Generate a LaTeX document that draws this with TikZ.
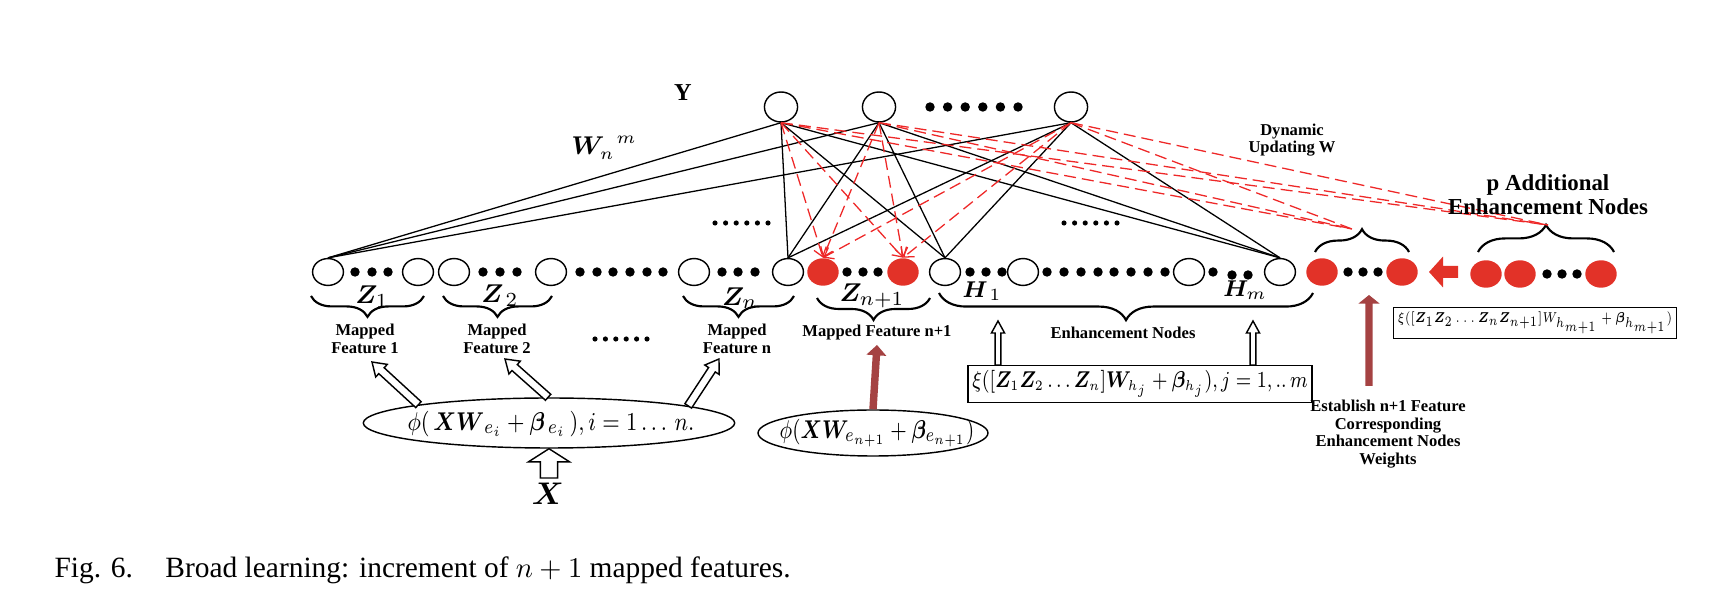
\documentclass[tikz,border=0pt]{standalone}
\usepackage{amsmath,bm,graphicx}
\usepackage{fontspec}
\setmainfont{Liberation Serif}
\usetikzlibrary{calc,shapes.geometric,decorations.pathreplacing,arrows.meta}
\definecolor{nodered}{RGB}{226,50,40}
\definecolor{dashred}{RGB}{238,40,40}
\definecolor{arrowred}{RGB}{165,66,66}
% block arrow: [style]{shaft half width}{head half width}{head length}{from}{to}
\newcommand{\fatarrow}[6][]{%
  \path[#1] let \p1=(#5), \p2=(#6), \n1={atan2(\y2-\y1,\x2-\x1)}, \n2={veclen(\x2-\x1,\y2-\y1)} in
    {[shift={(\p1)},rotate=\n1] (0pt,-#2) -- ({\n2*1pt-#4},-#2) -- ({\n2*1pt-#4},-#3) -- ({\n2*1pt},0pt)
    -- ({\n2*1pt-#4},#3) -- ({\n2*1pt-#4},#2) -- (0pt,#2) -- cycle};}
\newcommand{\narrow}[2]{\scalebox{#1}[1]{#2}}% squeeze a formula sideways

\begin{document}
\begin{tikzpicture}[x=0.35pt,y=-0.35pt,
    ynode/.style={draw,ellipse,inner sep=0pt,minimum width=11.6pt,minimum height=10.5pt,line width=0.5pt},
    wnode/.style={draw,ellipse,inner sep=0pt,minimum width=10.8pt,minimum height=9.4pt,line width=0.5pt},
    rnode/.style={ellipse,fill=nodered,inner sep=0pt,minimum width=11pt,minimum height=9.6pt},
    bdot/.style={circle,fill,inner sep=0pt,minimum size=3.3pt},
    sdot/.style={circle,fill,inner sep=0pt,minimum size=1.8pt},
    wline/.style={line width=0.45pt},
    rdash/.style={draw=dashred,line width=0.45pt,dash pattern=on 4.2pt off 2.1pt},
    brc/.style={decorate,decoration={brace,amplitude=#1},line width=0.75pt},
    brc/.default=7.3pt,
    lbl/.style={font=\fontsize{5.8}{6.1}\selectfont\bfseries,align=center,inner sep=0pt},
    mlbl/.style={font=\fontsize{9.5}{10}\selectfont,inner sep=0pt},
    hollow/.style={draw,fill=white,line width=0.5pt},
  ]
\useasboundingbox (0,0) rectangle (1720,596);

% output layer Y
\node[font=\fontsize{8.5}{9}\selectfont\bfseries,inner sep=0pt] (ylab) at (683,93) {Y};
\node[ynode] (y1) at (781,107) {};
\node[ynode] (y2) at (879,107) {};
\node[ynode] (y3) at (1071,107) {};
\foreach \x [count=\i] in {930,947.6,...,1019}
  \node[bdot] (yd\i) at (\x,107) {};
\node[mlbl,font=\fontsize{9}{10}\selectfont] (wlab) at (604,148) {$\bm{W}_{n}^{\;\;m}$};

% mapped features and enhancement nodes
\foreach \n/\x in {z1a/328,z1b/418,z2a/454,z2b/551,zna/694,znb/788,h1/945,h2/1023,h3/1189,hm/1280}
  \node[wnode] (\n) at (\x,272) {};
\foreach \n/\x in {r1/823,r2/903,e1/1322,e2/1402}
  \node[rnode] (\n) at (\x,272) {};
\foreach \n/\x in {p1/1486,p2/1520,p3/1601}
  \node[rnode] (\n) at (\x,274) {};
\foreach \x [count=\i] in {355,372,388, 483,500,517, 580,597,613,630,647,663, 722,738,755,
    847,863,878, 970,986,1002, 1047,1064,1081,1098,1114,1131,1148,1165, 1213, 1348,1363,1378}
  \node[bdot] (bd\i) at (\x,272) {};
\foreach \x [count=\i] in {1232,1248} \node[bdot] (hd\i) at (\x,275) {};
\foreach \x [count=\i] in {1547,1562,1577} \node[bdot] (pd\i) at (\x,274) {};
\foreach \x [count=\i] in {0,...,5}{% the small dot rows
  \node[sdot] (sa\i) at (715+10.6*\x,223) {};
  \node[sdot] (sb\i) at (1064+10.6*\x,223) {};
  \node[sdot] (sc\i) at (595+10.4*\x,339) {};
}

% braces
\draw[brc] (424,296) -- (311,296);
\draw[brc] (552,296) -- (443,296);
\draw[brc] (794,296) -- (683,296);
\draw[brc=7.7pt] (930,298) -- (817,298);
\draw[brc=9.5pt] (1313,293) -- (939,293);
\draw[brc=8pt] (1315,252) -- (1409,252);
\draw[brc=9.5pt] (1478,252) -- (1614,252);
\coordinate (tipa) at (1352,229);
\coordinate (tipb) at (1548,225);

\node[mlbl] (zl1) at (372,297) {$\bm{Z}_{1}$};
\node[mlbl] (zl2) at (500,296) {$\bm{Z}_{\,2}$};
\node[mlbl] (zln) at (740,298) {$\bm{Z}_{n}$};
\node[mlbl] (zln1) at (872,296) {$\bm{Z}_{n+1}$};
\node[mlbl,font=\fontsize{8.5}{9}\selectfont] (hl1) at (982,291) {$\bm{H}_{\,1}$};
\node[mlbl,font=\fontsize{8.5}{9}\selectfont] (hlm) at (1245,290) {$\bm{H}_{m}$};

% weights
\foreach \b in {z1a,znb,h1,hm}{
  \foreach \t in {y1,y2,y3}
    \draw[wline] (\b.north) -- (\t.south);
}
\foreach \t in {y1,y2,y3}{
  \foreach \r in {r1,r2}
    \draw[rdash,-{Straight Barb[length=3pt,width=4.5pt]}] (\t.south) -- (\r.north);
  \draw[rdash] (\t.south) -- (tipa);
  \draw[rdash] (\t.south) -- (tipb);
}

% texts
\node[lbl] (mf1) at (365,339) {Mapped\\Feature 1};
\node[lbl] (mf2) at (497,339) {Mapped\\Feature 2};
\node[lbl] (mfn) at (737,339) {Mapped\\Feature n};
\node[lbl] (mfn1) at (877,333) {Mapped Feature n+1};
\node[lbl] (enh) at (1123,333) {Enhancement Nodes};
\node[lbl] (dyn) at (1292,140) {Dynamic\\Updating W};
\node[lbl,font=\fontsize{8}{8.4}\selectfont\bfseries] (padd) at (1548,195) {p Additional\\Enhancement Nodes};
\node[lbl] (est) at (1388,434) {Establish n+1 Feature\\Corresponding\\Enhancement Nodes\\Weights};

% mapping functions
\node[draw,ellipse,inner sep=0pt,minimum width=130pt,minimum height=17.5pt,line width=0.5pt] (ell) at (549,423) {};
\node[mlbl] (ellt) at (551,424) {\narrow{0.85}{$\phi(\,\bm{X}\bm{W}_{\,e_i}+\bm{\beta}_{\,e_i}\,),i=1\ldots\,n.$}};
\node[draw,ellipse,inner sep=0pt,minimum width=80.5pt,minimum height=16.1pt,line width=0.5pt] (ell2) at (873,433) {};
\node[mlbl] (ell2t) at (877,433) {\narrow{0.8}{$\phi(\bm{X}\bm{W}_{e_{n+1}}+\bm{\beta}_{e_{n+1}})$}};
\node[draw,inner sep=1.5pt,line width=0.5pt,font=\fontsize{7.6}{9}\selectfont,minimum height=13pt] (xi1) at (1140,384)
  {\narrow{0.82}{$\xi([\bm{Z}_1\bm{Z}_2\ldots\bm{Z}_n]\bm{W}_{h_j}+\bm{\beta}_{h_j}),j=1,..\,m$}};
\node[draw,inner sep=1.5pt,line width=0.5pt,font=\fontsize{5.4}{6.5}\selectfont,minimum height=10.8pt] (xi2) at (1535,323)
  {\narrow{0.74}{$\xi([\bm{Z}_1\bm{Z}_2\ldots\bm{Z}_n\bm{Z}_{n+1}]W_{h_{m+1}}+\bm{\beta}_{h_{m+1}})$}};
\node[mlbl,font=\fontsize{11}{12}\selectfont] (xlab) at (548,494) {$\bm{X}$};

% block arrows
\coordinate (t1) at (372,362);
\coordinate (t2) at (505,359);
\coordinate (t3) at (719,359);
\fatarrow[hollow]{1.4pt}{3pt}{4.5pt}{ell.172}{t1}
\fatarrow[hollow]{1.4pt}{3pt}{4.5pt}{ell.92}{t2}
\fatarrow[hollow]{1.4pt}{3pt}{4.5pt}{ell.7}{t3}
\coordinate (xa) at (549,478);
\fatarrow[hollow]{3pt}{7.2pt}{4.6pt}{xa}{ell.south}
\coordinate (ha) at (998,365);
\coordinate (hb) at (998,321);
\coordinate (hc) at (1253,365);
\coordinate (hd) at (1253,321);
\fatarrow[hollow]{1pt}{2.3pt}{4.2pt}{ha}{hb}
\fatarrow[hollow]{1pt}{2.3pt}{4.2pt}{hc}{hd}
\coordinate (ra) at (877,345);
\fatarrow[fill=arrowred]{1.3pt}{3.5pt}{3.6pt}{ell2.north}{ra}
\coordinate (sa) at (1369,386);
\coordinate (sb) at (1369,295);
\fatarrow[fill=arrowred]{1.3pt}{3.7pt}{3pt}{sa}{sb}
\coordinate (la) at (1458,272);
\coordinate (lb) at (1429,272);
\fatarrow[fill=nodered]{2.1pt}{5.4pt}{4.9pt}{la}{lb}

% caption
\node[anchor=west,inner sep=0pt,font=\fontsize{10.3}{12}\selectfont] (cap) at (54,570)
  {Fig. 6.\hspace{1.1em}Broad learning: increment of $n+1$ mapped features.};
\end{tikzpicture}
\end{document}
